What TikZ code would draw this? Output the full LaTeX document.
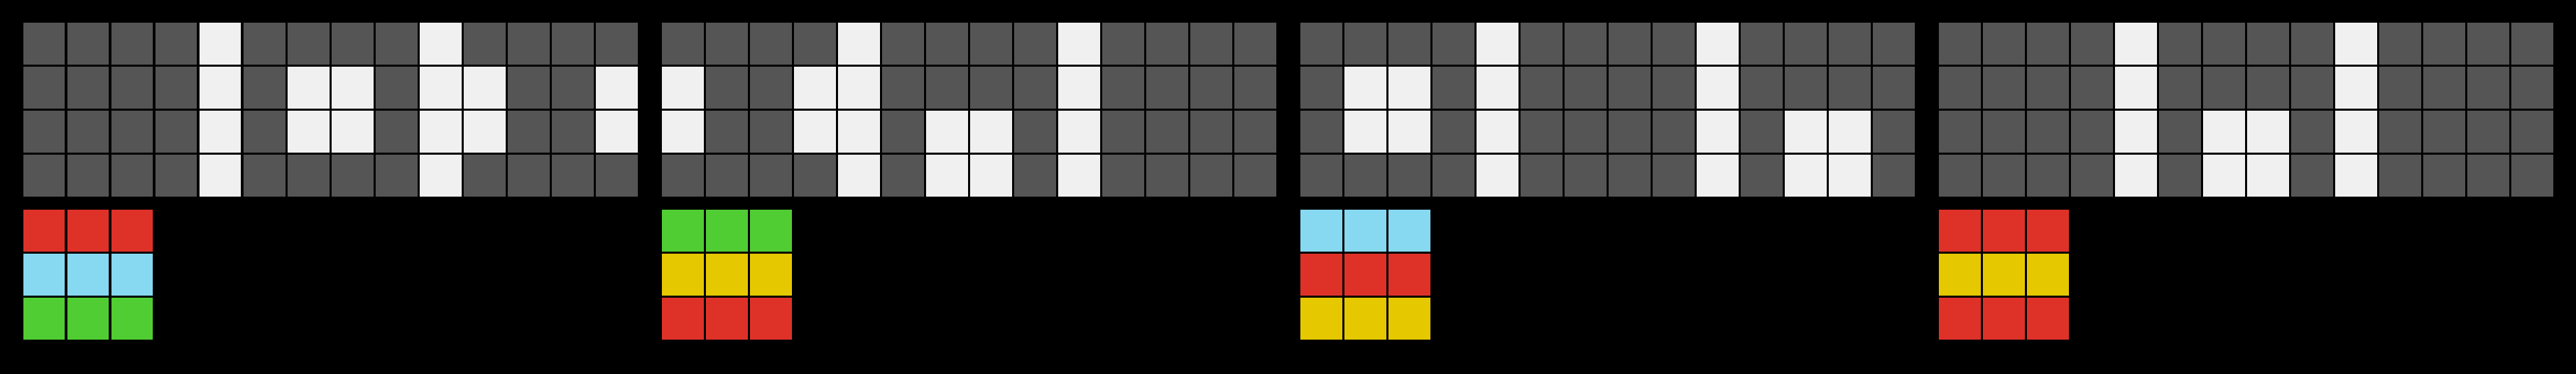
\documentclass[tikz,border=0pt]{standalone}
\usetikzlibrary{positioning}
\definecolor{cellgray}{RGB}{85,85,85}
\definecolor{cellwhite}{RGB}{240,240,240}
\definecolor{cellred}{RGB}{222,50,40}
\definecolor{cellblue}{RGB}{135,216,241}
\definecolor{cellgreen}{RGB}{80,205,50}
\definecolor{cellyellow}{RGB}{230,200,0}
\begin{document}
\begin{tikzpicture}[x=1cm,y=-1cm]
		\tikzstyle{cell}=[draw=black, line width=0.047cm]
		\fill [black] (0,0) rectangle (58.5,8.5);
		% upper grids, 4 rows by 14 columns
		\foreach \p in {0,...,3}
			\foreach \r in {0,...,3}
				\foreach \c in {0,...,13}
					\draw [cell, fill=cellgray] ({0.5+14.5*\p+\c},{0.5+\r}) rectangle ++(1,1);
		% the two white columns
		\foreach \p in {0,...,3}
			\foreach \r in {0,...,3}
				\foreach \c in {4,9}
					\draw [cell, fill=cellwhite] ({0.5+14.5*\p+\c},{0.5+\r}) rectangle ++(1,1);
		% white blocks
		\foreach \p/\r/\c in {0/1/6,0/1/7,0/2/6,0/2/7,0/1/10,0/2/10,0/1/13,0/2/13,
				1/1/0,1/2/0,1/1/3,1/2/3,1/2/6,1/2/7,1/3/6,1/3/7,
				2/1/1,2/1/2,2/2/1,2/2/2,2/2/11,2/2/12,2/3/11,2/3/12,
				3/2/6,3/2/7,3/3/6,3/3/7}
			\draw [cell, fill=cellwhite] ({0.5+14.5*\p+\c},{0.5+\r}) rectangle ++(1,1);
		% lower colour grids, 3 by 3
		\foreach \p/\ca/\cb/\cc in {0/cellred/cellblue/cellgreen,
				1/cellgreen/cellyellow/cellred,
				2/cellblue/cellred/cellyellow,
				3/cellred/cellyellow/cellred}
			\foreach \r/\col in {0/\ca,1/\cb,2/\cc}
				\foreach \c in {0,1,2}
					\draw [cell, fill=\col] ({0.5+14.5*\p+\c},{4.75+\r}) rectangle ++(1,1);
	\end{tikzpicture}
\end{document}
